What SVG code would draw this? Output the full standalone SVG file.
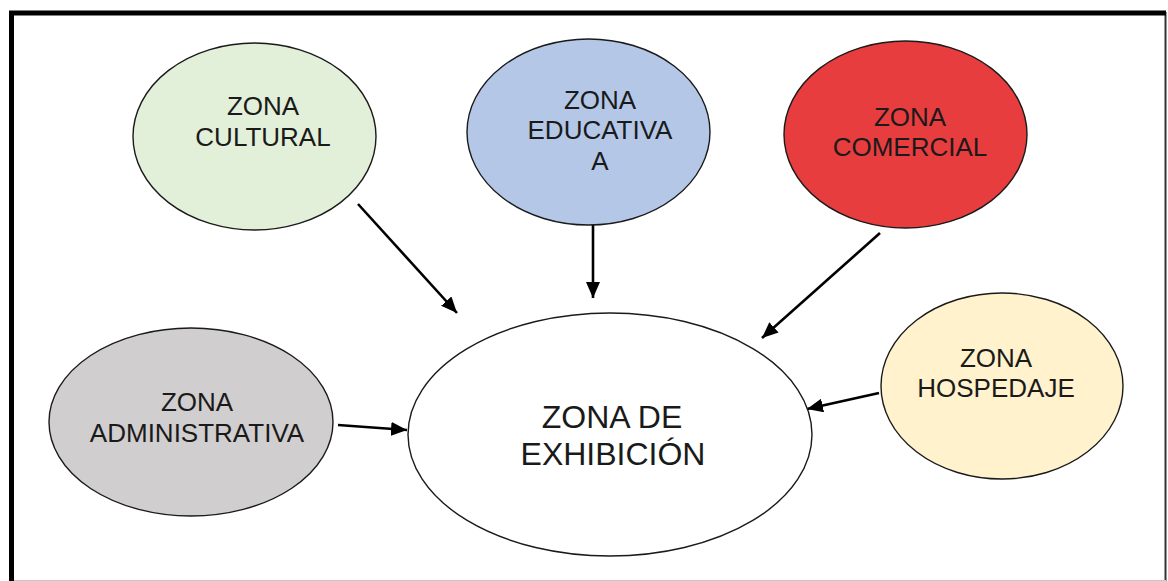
<svg xmlns="http://www.w3.org/2000/svg" width="1168" height="581" viewBox="0 0 1168 581">
<style>
  .node ellipse { stroke: #1a1a1a; stroke-width: 1.4; }
  .node text { font-family: "Liberation Sans", Arial, sans-serif; font-size: 26px; fill: #1a1a1a; text-anchor: middle; }
  .node text.big { font-size: 32px; }
  .conn line { stroke: #000; stroke-width: 2.6; marker-end: url(#arrow); }
</style>
<defs>
  <marker id="arrow" markerUnits="userSpaceOnUse" markerWidth="16" markerHeight="14" viewBox="0 0 16 14" refX="16" refY="7" orient="auto">
    <path d="M0,0 L16,7 L0,14 z" fill="#000"/>
  </marker>
</defs>
<rect width="1168" height="581" fill="#fff"/>
<g id="frame">
  <line x1="1165.5" y1="12" x2="1165.5" y2="581" stroke="#333" stroke-width="2"/>
  <line x1="9" y1="580.5" x2="1166" y2="580.5" stroke="#c8c8c8" stroke-width="1"/>
  <line x1="11.5" y1="11" x2="11.5" y2="581" stroke="#000" stroke-width="5"/>
  <line x1="9" y1="13" x2="1166" y2="13" stroke="#000" stroke-width="5"/>
</g>
<g id="connectors" class="conn">
  <line x1="358" y1="204" x2="457" y2="313"/>
  <line x1="593" y1="225" x2="593" y2="298"/>
  <line x1="880" y1="233" x2="762" y2="338"/>
  <line x1="338" y1="425" x2="407" y2="430"/>
  <line x1="879" y1="393" x2="807" y2="409"/>
</g>
<g id="zona-cultural" class="node">
  <ellipse cx="254.5" cy="136.5" rx="121.5" ry="93.5" fill="#e2efd9"/>
  <text x="263" y="115">ZONA</text>
  <text x="263" y="146">CULTURAL</text>
</g>
<g id="zona-educativa" class="node">
  <ellipse cx="588.5" cy="132" rx="121.5" ry="93" fill="#b4c7e7"/>
  <text x="600" y="109">ZONA</text>
  <text x="600" y="139">EDUCATIVA</text>
  <text x="600" y="170">A</text>
</g>
<g id="zona-comercial" class="node">
  <ellipse cx="905.5" cy="134.5" rx="121.5" ry="93.5" fill="#e83d3f"/>
  <text x="910" y="126">ZONA</text>
  <text x="910" y="156">COMERCIAL</text>
</g>
<g id="zona-administrativa" class="node">
  <ellipse cx="191" cy="422" rx="142" ry="94" fill="#d0cece"/>
  <text x="197" y="411">ZONA</text>
  <text x="197" y="442">ADMINISTRATIVA</text>
</g>
<g id="zona-hospedaje" class="node">
  <ellipse cx="1002" cy="386" rx="121" ry="93" fill="#fff2cc"/>
  <text x="996" y="367">ZONA</text>
  <text x="996" y="397">HOSPEDAJE</text>
</g>
<g id="zona-exhibicion" class="node">
  <ellipse cx="610" cy="434.5" rx="202" ry="121.5" fill="#fff"/>
  <text class="big" x="612" y="428">ZONA DE</text>
  <text class="big" x="613" y="465">EXHIBICIÓN</text>
</g>
</svg>
